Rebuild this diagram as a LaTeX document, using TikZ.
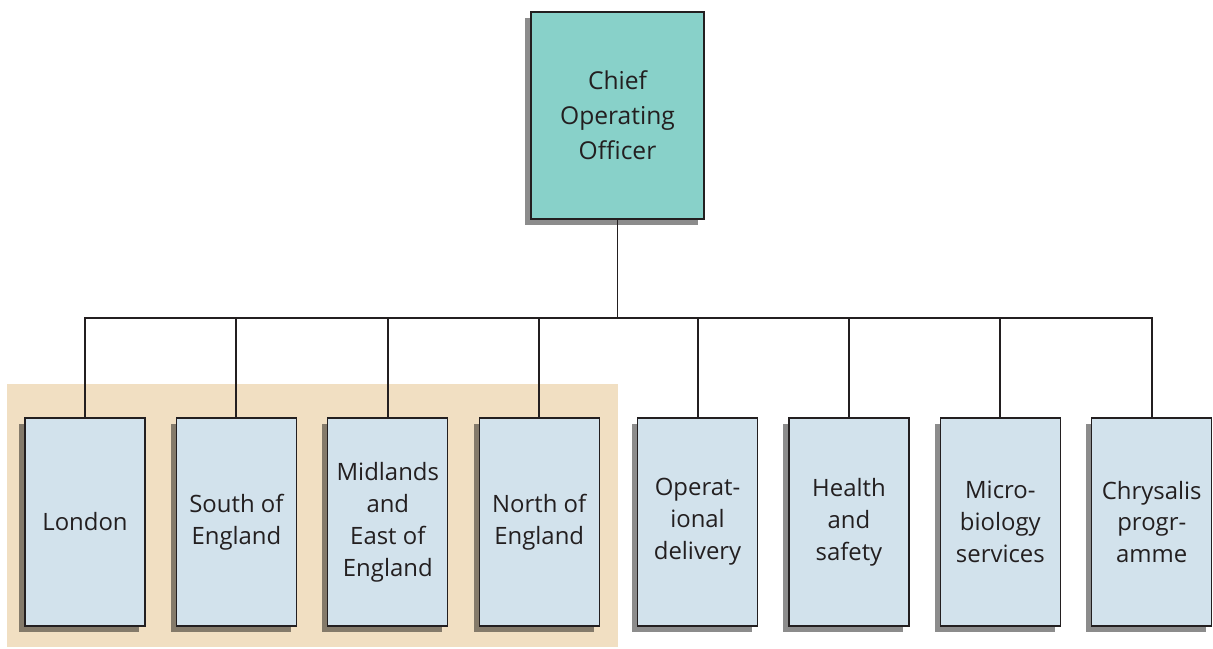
\documentclass[tikz,border=0pt]{standalone}
\usepackage{fontspec}
\setmainfont{Open Sans}
\definecolor{TopTeal}{RGB}{136, 209, 201}
\definecolor{UnitBlue}{RGB}{210, 226, 236}
\definecolor{RegionSand}{RGB}{241, 223, 194}
\definecolor{InkGrey}{RGB}{35, 31, 32}
\usetikzlibrary{positioning, shadows, backgrounds}

\begin{document}
\begin{tikzpicture}[
        node distance=0.757cm,
        unit/.style={rectangle, draw=InkGrey, line width=0.8pt, fill=UnitBlue, minimum width=3cm, minimum height=5.2cm, align=center, text=InkGrey, font=\fontsize{17}{22.7}\selectfont, drop shadow={shadow xshift=-0.14cm, shadow yshift=-0.14cm, opacity=0.45, fill=black}},
        head/.style={unit, fill=TopTeal, minimum width=4.325cm, minimum height=5.175cm, font=\fontsize{17.5}{25}\selectfont},
        link/.style={draw=InkGrey, line width=1.4pt}
    ]
        \useasboundingbox (0,0) rectangle (30.325,-16.225);
        \node[head] (coo) at (15.4375,-2.8875) {Chief\\Operating\\Officer};
        \node[unit] (london) at (2.125,-13.05) {London};
        \node[unit, right=of london] (south) {South of\\England};
        \node[unit, right=of south] (midlands) {Midlands\\and\\East of\\England};
        \node[unit, right=of midlands] (north) {North of\\England};
        \node[unit, right=0.93cm of north] (operational) {Operat-\\ional\\delivery};
        \node[unit, right=of operational] (health) {Health\\and\\safety};
        \node[unit, right=of health] (micro) {Micro-\\biology\\services};
        \node[unit, right=of micro] (chrysalis) {Chrysalis\\progr-\\amme};
        \coordinate (bus) at (15.4375,-7.95);
        % regional group
        \begin{scope}[on background layer]
            \fill[RegionSand] ([shift={(-0.425cm,0.825cm)}]london.north west) rectangle ([shift={(0.45cm,-0.5cm)}]north.south east);
        \end{scope}
        \draw[link] (coo.south) -- (bus);
        \draw[link, line cap=rect] (london.north |- bus) -- (chrysalis.north |- bus);
        \foreach \n in {london, south, midlands, north, operational, health, micro, chrysalis}
            \draw[link] (\n.north |- bus) -- (\n.north);
    \end{tikzpicture}
\end{document}
